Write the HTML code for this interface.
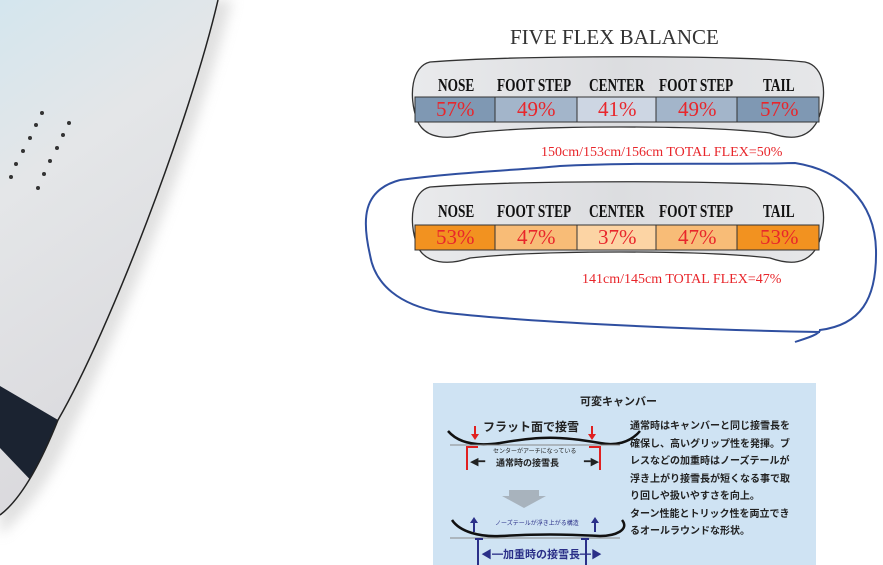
<!DOCTYPE html>
<html><head><meta charset="utf-8"><style>
body{margin:0;width:883px;height:565px;background:#fff;overflow:hidden;position:relative;font-family:"Liberation Serif",serif}
.t{position:absolute;white-space:nowrap}
.h{font-size:18px;font-weight:bold;color:#111;transform:scaleX(.74);transform-origin:left}
.p{font-size:21px;color:#e8262b}
.jp{font-family:"Liberation Sans","Noto Sans CJK JP",sans-serif}
</style></head><body>
<svg width="883" height="565" style="position:absolute;left:0;top:0">
<defs>
<linearGradient id="bg" x1="0" y1="0" x2="0.3" y2="1"><stop offset="0" stop-color="#d4e6ee"/><stop offset="0.35" stop-color="#e4e6e8"/><stop offset="1" stop-color="#d9d8dc"/></linearGradient>
<filter id="sh"><feGaussianBlur stdDeviation="6"/></filter>
<linearGradient id="bd" x1="0" y1="0" x2="1" y2="0"><stop offset="0" stop-color="#e9eaec"/><stop offset="0.5" stop-color="#dcdde0"/><stop offset="1" stop-color="#e6e7e9"/></linearGradient>
<clipPath id="bc"><path d="M0,0 L218,0 C190,120 110,330 58,420 C40,465 20,500 0,515 Z"/></clipPath>
</defs>
<path d="M0,0 L232,0 C195,150 115,340 72,430 C52,480 25,515 0,535 Z" fill="#ccc" filter="url(#sh)" opacity="0.6"/>
<path d="M0,0 L218,0 C190,120 110,330 58,420 C40,465 20,500 0,515 Z" fill="url(#bg)"/>
<path d="M0,386 L70,427 L40,490 L0,448 Z" fill="#1b2331" clip-path="url(#bc)"/>
<path d="M218,0 C190,120 110,330 58,420 C40,465 20,500 0,515" fill="none" stroke="#222" stroke-width="1.5"/>
<g fill="#333">
<circle cx="42" cy="113" r="2"/><circle cx="36" cy="125" r="2"/><circle cx="30" cy="138" r="2"/><circle cx="23" cy="151" r="2"/><circle cx="16" cy="164" r="2"/><circle cx="11" cy="177" r="2"/>
<circle cx="69" cy="123" r="2"/><circle cx="63" cy="135" r="2"/><circle cx="57" cy="148" r="2"/><circle cx="50" cy="161" r="2"/><circle cx="44" cy="174" r="2"/><circle cx="38" cy="188" r="2"/>
</g>
<path d="M430,62 C520,55 740,55 805,62 C825,66 828,95 818,120 C808,140 790,140 770,133 C700,125 540,125 470,133 C450,140 425,140 417,120 C408,95 412,66 430,62 Z" fill="url(#bd)" stroke="#333" stroke-width="1.3"/>
<path d="M430,187 C520,180 740,180 805,187 C825,191 828,220 818,245 C808,265 790,265 770,258 C700,250 540,250 470,258 C450,265 425,265 417,245 C408,220 412,191 430,187 Z" fill="url(#bd)" stroke="#333" stroke-width="1.3"/>
<g stroke="#333" stroke-width="1">
<rect x="415" y="97" width="80" height="25" fill="#7f98b3"/><rect x="495" y="97" width="82" height="25" fill="#a3b5ca"/><rect x="577" y="97" width="79" height="25" fill="#cdd6e3"/><rect x="656" y="97" width="81" height="25" fill="#a3b5ca"/><rect x="737" y="97" width="82" height="25" fill="#7f98b3"/>
<rect x="415" y="225" width="80" height="25" fill="#f29220"/><rect x="495" y="225" width="82" height="25" fill="#f8bc77"/><rect x="577" y="225" width="79" height="25" fill="#fcd4a4"/><rect x="656" y="225" width="81" height="25" fill="#f8bc77"/><rect x="737" y="225" width="82" height="25" fill="#f29220"/>
</g>
<path d="M400,180 C460,172 520,170 560,166 C640,162 720,165 795,163 C840,170 875,200 876,250 C877,300 860,325 820,330 C820,335 800,340 795,342 M820,332 C700,330 520,322 440,312 C400,305 375,285 370,255 C362,220 362,190 400,180" fill="none" stroke="#2f4fa0" stroke-width="2"/>
<rect x="433" y="383" width="383" height="182" fill="#cfe3f3"/>
<path d="M448,431 C460,445 480,446 500,443 C540,436 560,436 600,443 C615,446 630,443 640,431" fill="none" stroke="#111" stroke-width="2.5"/>
<line x1="450" y1="445" x2="620" y2="445" stroke="#888" stroke-width="1"/>
<path d="M467,446 L467,470 M467,447 L478,447 M600,446 L600,470 M600,447 L589,447" stroke="#e02020" stroke-width="2" fill="none"/>
<path d="M474,426 v8 h-3 l4,6 l4,-6 h-3 v-8z M591,426 v8 h-3 l4,6 l4,-6 h-3 v-8z" fill="#e02020"/>
<path d="M509,490 h30 v6 h-30z M502,496 h44 l-22,12z" fill="#a8b3bd"/>
<path d="M452,520 C460,532 480,537 500,536 C540,534 560,534 600,536 C615,536 630,530 622,520" fill="none" stroke="#111" stroke-width="2.5"/>
<line x1="450" y1="538" x2="620" y2="538" stroke="#888" stroke-width="1"/>
<path d="M478,538 v27 M475,539 h8 M586,538 v27 M589,539 h-8" stroke="#2a2f88" stroke-width="2" fill="none"/>
<path d="M473,532 v-9 h-3 l4,-6 l4,6 h-3 v9z M594,532 v-9 h-3 l4,-6 l4,6 h-3 v9z" fill="#2a2f88"/>
</svg>
<div class="t" style="left:510px;top:25px;font-size:21px;color:#333">FIVE FLEX BALANCE</div>
<div class="t h" style="left:438px;top:75px">NOSE</div>
<div class="t h" style="left:497px;top:75px">FOOT STEP</div>
<div class="t h" style="left:589px;top:75px">CENTER</div>
<div class="t h" style="left:659px;top:75px">FOOT STEP</div>
<div class="t h" style="left:763px;top:75px">TAIL</div>
<div class="t h" style="left:438px;top:201px">NOSE</div>
<div class="t h" style="left:497px;top:201px">FOOT STEP</div>
<div class="t h" style="left:589px;top:201px">CENTER</div>
<div class="t h" style="left:659px;top:201px">FOOT STEP</div>
<div class="t h" style="left:763px;top:201px">TAIL</div>
<div class="t p" style="left:436px;top:97px">57%</div>
<div class="t p" style="left:517px;top:97px">49%</div>
<div class="t p" style="left:598px;top:97px">41%</div>
<div class="t p" style="left:678px;top:97px">49%</div>
<div class="t p" style="left:760px;top:97px">57%</div>
<div class="t p" style="left:436px;top:225px">53%</div>
<div class="t p" style="left:517px;top:225px">47%</div>
<div class="t p" style="left:598px;top:225px">37%</div>
<div class="t p" style="left:678px;top:225px">47%</div>
<div class="t p" style="left:760px;top:225px">53%</div>
<div class="t" style="left:541px;top:145px;font-size:14px;color:#e8262b">150cm/153cm/156cm TOTAL FLEX=50%</div>
<div class="t" style="left:582px;top:272px;font-size:14px;color:#e8262b">141cm/145cm TOTAL FLEX=47%</div>
<div class="t jp" style="left:580px;top:393px;font-size:11px;font-weight:bold;color:#222">可変キャンバー</div>
<div class="t jp" style="left:483px;top:418px;font-size:12px;font-weight:bold;color:#222">フラット面で接雪</div>
<div class="t jp" style="left:493px;top:446px;font-size:6px;color:#222">センターがアーチになっている</div>
<div class="t jp" style="left:496px;top:456px;font-size:9px;font-weight:bold;color:#222">通常時の接雪長</div>
<div class="t" style="left:470px;top:455px;font-size:11px;color:#222">◀━</div>
<div class="t" style="left:584px;top:455px;font-size:11px;color:#222">━▶</div>
<div class="t jp" style="left:495px;top:518px;font-size:6px;color:#2a2f88">ノーズテールが浮き上がる構造</div>
<div class="t jp" style="left:481px;top:546px;font-size:11px;font-weight:bold;color:#2a2f88">◀━加重時の接雪長━▶</div>
<div class="t jp" style="left:630px;top:418px;font-size:10px;font-weight:bold;line-height:17.5px;color:#222">通常時はキャンバーと同じ接雪長を<br>確保し、高いグリップ性を発揮。ブ<br>レスなどの加重時はノーズテールが<br>浮き上がり接雪長が短くなる事で取<br>り回しや扱いやすさを向上。<br>ターン性能とトリック性を両立でき<br>るオールラウンドな形状。</div>
</body></html>
